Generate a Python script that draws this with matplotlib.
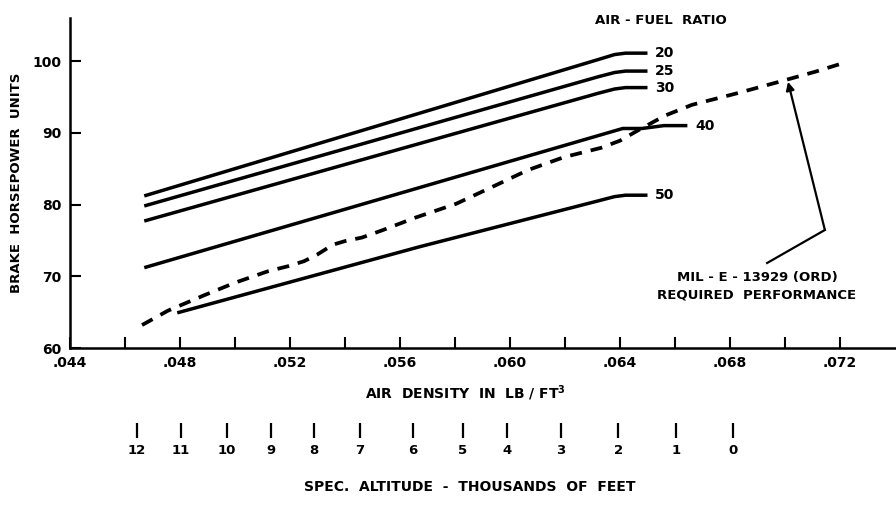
import matplotlib
matplotlib.use("Agg")
import matplotlib.pyplot as plt
from matplotlib.ticker import FuncFormatter

# air-fuel ratio curves (air density lb/ft3 -> brake horsepower units)
ratio_20_x = [0.0467, 0.0632, 0.0638, 0.0642, 0.0650]
ratio_20_y = [81.2, 100.2, 100.9, 101.1, 101.1]
ratio_25_x = [0.0467, 0.0632, 0.0638, 0.0642, 0.0650]
ratio_25_y = [79.8, 97.8, 98.4, 98.6, 98.6]
ratio_30_x = [0.0467, 0.0632, 0.0638, 0.0642, 0.0650]
ratio_30_y = [77.7, 95.5, 96.1, 96.3, 96.3]
ratio_40_x = [0.0467, 0.0641, 0.0648, 0.0656, 0.06645]
ratio_40_y = [71.2, 90.6, 90.6, 91.0, 91.0]
ratio_50_x = [0.0479, 0.0567, 0.0632, 0.0638, 0.0642, 0.0650]
ratio_50_y = [64.9, 74.1, 80.5, 81.1, 81.3, 81.3]

curve_labels = ["20", "25", "30", "40", "50"]

# MIL-E-13929(ORD) required performance (dashed)
mil_x = [0.04662, 0.04756, 0.04891, 0.05000, 0.05120, 0.05193, 0.05251, 0.05298,
         0.05356, 0.05400, 0.05462, 0.05535, 0.05658, 0.05804, 0.05938, 0.06065,
         0.06196, 0.06331, 0.06400, 0.06473, 0.06564, 0.06662, 0.06825, 0.06978,
         0.07109, 0.0721]
mil_y = [63.2, 65.2, 67.4, 69.1, 70.7, 71.4, 72.1, 73.0,
         74.4, 74.9, 75.4, 76.4, 78.2, 80.1, 82.5, 84.8,
         86.6, 87.9, 88.9, 90.5, 92.4, 93.9, 95.5, 97.1,
         98.5, 99.7]

# altitude scale below the density axis
altitude_density = [0.04644, 0.04804, 0.04971, 0.05131, 0.05287, 0.05455, 0.05647,
                    0.05829, 0.05989, 0.06185, 0.06393, 0.06604, 0.06811]
altitude_labels = ["12", "11", "10", "9", "8", "7", "6", "5", "4", "3", "2", "1", "0"]

density_ticks = [0.044, 0.046, 0.048, 0.050, 0.052, 0.054, 0.056, 0.058,
                 0.060, 0.062, 0.064, 0.066, 0.068, 0.070, 0.072]
bhp_ticks = [60, 70, 80, 90, 100]

plt.rcParams['font.family'] = ['DejaVu Sans']
plt.rcParams['font.weight'] = 'bold'

W, H = 896, 524
fig = plt.figure(figsize=(W / 100, H / 100), dpi=100)
ax = fig.add_axes([70 / W, 1 - 348 / H, 825 / W, 330 / H])

lw = 2.5
series = [(ratio_20_x, ratio_20_y), (ratio_25_x, ratio_25_y), (ratio_30_x, ratio_30_y),
          (ratio_40_x, ratio_40_y), (ratio_50_x, ratio_50_y)]
for (xs, ys), lab in zip(series, curve_labels):
    ax.plot(xs, ys, color="black", lw=lw, solid_capstyle="butt")
    ax.text(xs[-1] + 0.00028, ys[-1], lab, fontsize=10, fontweight="bold",
            va="center", ha="left")

ax.plot(mil_x, mil_y, color="black", lw=2.7, dashes=(3.2, 2.4),
        dash_capstyle="butt")

ax.set_xlim(0.044, 0.074)
ax.set_ylim(60, 106)
ax.set_xticks(density_ticks)
ax.xaxis.set_major_formatter(FuncFormatter(
    lambda v, p: ("%.3f" % v)[1:] if round(v * 1000) % 4 == 0 else ""))
ax.set_yticks(bhp_ticks)

for side in ["top", "right"]:
    ax.spines[side].set_visible(False)
for side in ["left", "bottom"]:
    ax.spines[side].set_linewidth(1.8)
ax.tick_params(axis="both", direction="in", length=8, width=1.5,
               labelsize=10, pad=6)
for t in ax.get_xticklabels() + ax.get_yticklabels():
    t.set_fontweight("bold")

ax.set_ylabel("BRAKE  HORSEPOWER  UNITS", fontsize=9.5, fontweight="bold",
              labelpad=7)

ax.text(0.0655, 105.7, "AIR - FUEL  RATIO", fontsize=9.5, fontweight="bold",
        ha="center", va="center")

# annotation for the required performance line
ax.text(0.06898, 68.6, "MIL - E - 13929 (ORD)\nREQUIRED  PERFORMANCE", fontsize=9.5,
        fontweight="bold", ha="center", va="center", linespacing=1.45)
ax.plot([0.06935, 0.07145], [71.85, 76.45], color="black", lw=1.6)
ax.annotate("", xy=(0.07011, 97.1), xytext=(0.07145, 76.45),
            arrowprops=dict(arrowstyle="-|>", color="black", lw=1.6,
                            mutation_scale=12, shrinkA=0, shrinkB=0))

# altitude scale
sec = ax.secondary_xaxis(-(438 - 348) / 330)
sec.set_xticks(altitude_density)
sec.set_xticklabels(altitude_labels)
sec.spines["bottom"].set_visible(False)
sec.tick_params(direction="in", length=11, width=1.6, labelsize=9.5, pad=4)
for t in sec.get_xticklabels():
    t.set_fontweight("bold")

fig.text(465 / W, 1 - 393 / H, "AIR  DENSITY  IN  LB / FT$^{\\mathbf{3}}$",
         fontsize=10, fontweight="bold", ha="center", va="center")
fig.text(470 / W, 1 - 487 / H, "SPEC.  ALTITUDE  -  THOUSANDS  OF  FEET",
         fontsize=10, fontweight="bold", ha="center", va="center")

fig.savefig("out.png", dpi=100)
